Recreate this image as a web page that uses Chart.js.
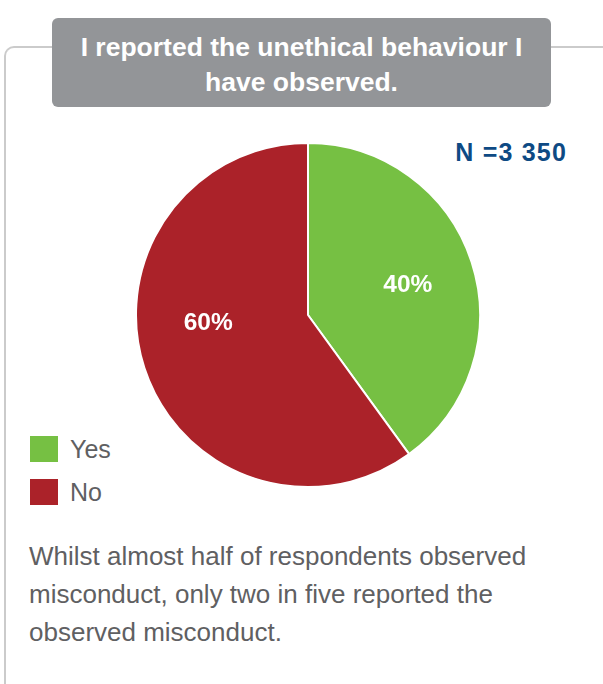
<!DOCTYPE html>
<html>
<head>
<meta charset="utf-8">
<script src="https://cdn.jsdelivr.net/npm/chart.js@4"></script>
<style>
  html, body { margin: 0; padding: 0; background: #ffffff; }
  body { width: 603px; height: 684px; position: relative; overflow: hidden;
         font-family: "Liberation Sans", Arial, Helvetica, sans-serif; }
  .frame { position: absolute; left: 4px; top: 46px; width: 640px; height: 700px;
           border-left: 2px solid #cbcbcb; border-top: 2px solid #cbcbcb;
           border-top-left-radius: 10px; box-sizing: border-box; }
  .title { position: absolute; left: 52px; top: 18px; width: 499px; height: 89px;
           background: #939598; border-radius: 6px; color: #ffffff;
           font-weight: bold; font-size: 26.5px; line-height: 35px; text-align: center;
           box-sizing: border-box; padding-top: 12px; }
  .count { position: absolute; right: 36px; top: 138px; color: #0e4a84;
           font-weight: bold; font-size: 25px; letter-spacing: 1.2px; }
  .pie { position: absolute; left: 135px; top: 142px; width: 346px; height: 346px; }
  .legend { position: absolute; left: 30px; top: 436px; }
  .legend .item { height: 43px; display: flex; align-items: flex-start; }
  .legend .sw { width: 28px; height: 26px; margin-right: 12px; }
  .legend .tx { font-size: 25px; line-height: 26px; color: #5f6062; }
  .note { position: absolute; left: 29px; top: 537px; width: 545px; font-size: 26px;
          line-height: 38px; color: #5f6062; }
</style>
</head>
<body>
<div class="frame"></div>
<div class="title" id="title"></div>
<div class="count" id="count"></div>
<div class="pie"><canvas id="c" width="346" height="346"></canvas></div>
<div class="legend" id="legend"></div>
<div class="note" id="note"></div>
<script>
const titleLines = ["I reported the unethical behaviour I", "have observed."];
const sampleLabel = "N =3 350";
const categories = ["Yes", "No"];
const shares = [40, 60];
const sliceColors = ["#76c043", "#ab2229"];
const noteText = "Whilst almost half of respondents observed misconduct, only two in five reported the observed misconduct.";

document.getElementById("title").innerHTML = titleLines.join("<br>");
document.getElementById("count").textContent = sampleLabel;
document.getElementById("note").textContent = noteText;

const legend = document.getElementById("legend");
categories.forEach((name, i) => {
  const item = document.createElement("div");
  item.className = "item";
  const sw = document.createElement("div");
  sw.className = "sw";
  sw.style.background = sliceColors[i];
  const tx = document.createElement("div");
  tx.className = "tx";
  tx.textContent = name;
  item.appendChild(sw);
  item.appendChild(tx);
  legend.appendChild(item);
});

// Writes each slice's percentage inside its arc
const sliceValueLabels = {
  id: "sliceValueLabels",
  afterDatasetsDraw(chart, args, opts) {
    const ctx = chart.ctx;
    const meta = chart.getDatasetMeta(0);
    ctx.save();
    ctx.fillStyle = "#ffffff";
    ctx.font = "bold 24.5px 'Liberation Sans', Arial, sans-serif";
    ctx.textAlign = "center";
    ctx.textBaseline = "middle";
    meta.data.forEach((arc, i) => {
      const p = arc.getProps(["x", "y", "startAngle", "endAngle", "outerRadius"], true);
      const mid = (p.startAngle + p.endAngle) / 2;
      const r = p.outerRadius * opts.radiusFactor;
      const nudge = opts.nudge[i] || { x: 0, y: 0 };
      const x = p.x + Math.cos(mid) * r + nudge.x;
      const y = p.y + Math.sin(mid) * r + nudge.y;
      ctx.fillText(chart.data.datasets[0].data[i] + "%", x, y);
    });
    ctx.restore();
  }
};

new Chart(document.getElementById("c"), {
  type: "pie",
  data: {
    labels: categories,
    datasets: [{
      data: shares,
      backgroundColor: sliceColors,
      borderColor: "#ffffff",
      borderWidth: 2
    }]
  },
  options: {
    responsive: false,
    animation: false,
    layout: { padding: 0 },
    plugins: {
      legend: { display: false },
      tooltip: { enabled: false },
      sliceValueLabels: { radiusFactor: 0.61, nudge: [{ x: 0, y: 3 }, { x: 0, y: -24 }] }
    }
  },
  plugins: [sliceValueLabels]
});
</script>
</body>
</html>
